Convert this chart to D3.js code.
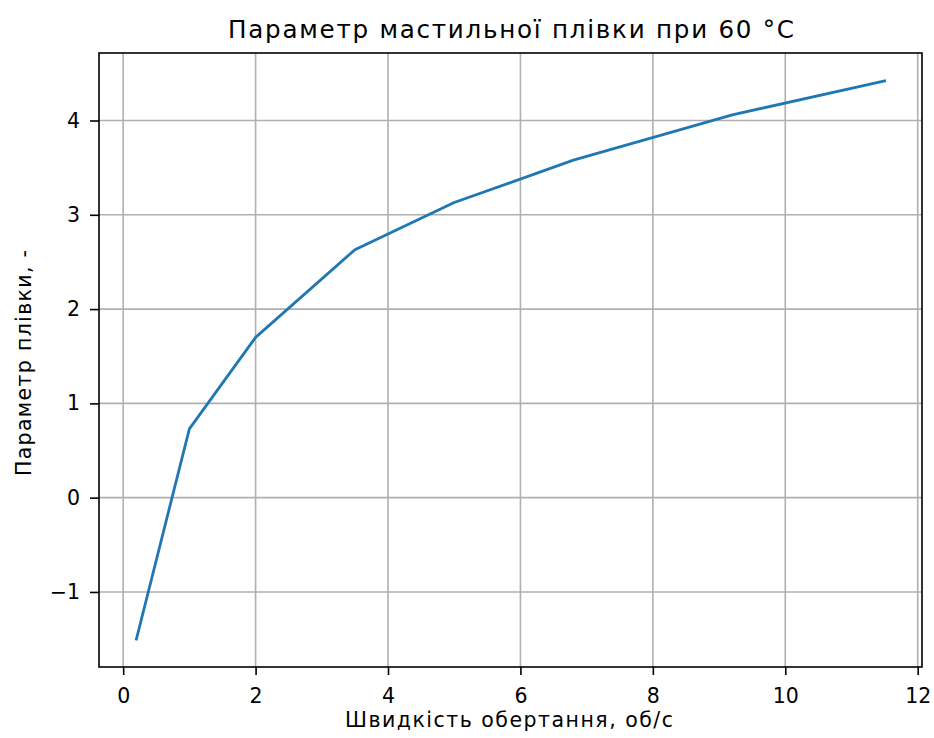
<!DOCTYPE html>
<html>
<head>
<meta charset="utf-8">
<script src="https://cdn.jsdelivr.net/npm/d3@7"></script>
<style>
  html, body { margin: 0; padding: 0; background: #fff; }
  svg { display: block; font-family: "DejaVu Sans", sans-serif; }
</style>
</head>
<body>
<svg id="chart" width="934" height="738"></svg>
<script>
// Data
const speeds = [0.2, 1.0, 2.0, 3.5, 5.0, 6.8, 9.2, 11.5];          // об/с
const filmParam = [-1.5, 0.73, 1.70, 2.63, 3.13, 3.58, 4.06, 4.42];
const xTicks = [0, 2, 4, 6, 8, 10, 12];
const yTicks = [-1, 0, 1, 2, 3, 4];
const titleText = "Параметр мастильної плівки при 60 °C";
const xLabelText = "Швидкість обертання, об/с";
const yLabelText = "Параметр плівки, -";

(function () {
const svg = d3.select("#chart");
const mLeft = 99, mRight = 922, mTop = 53, mBottom = 667;

const xMin = d3.min(speeds), xMax = d3.max(speeds);
const yMin = d3.min(filmParam), yMax = d3.max(filmParam);
const xPad = (xMax - xMin) * 0.05, yPad = (yMax - yMin) * 0.05;

const x = d3.scaleLinear().domain([xMin - xPad, xMax + xPad]).range([mLeft, mRight]);
const y = d3.scaleLinear().domain([yMin - yPad, yMax + yPad]).range([mBottom, mTop]);

const tickFont = 20.5;

// grid
const grid = svg.append("g").attr("stroke", "#b0b0b0").attr("stroke-width", 1.6);
grid.selectAll("line.vx").data(xTicks).join("line")
  .attr("x1", d => x(d)).attr("x2", d => x(d)).attr("y1", mTop).attr("y2", mBottom);
grid.selectAll("line.hy").data(yTicks).join("line")
  .attr("y1", d => y(d)).attr("y2", d => y(d)).attr("x1", mLeft).attr("x2", mRight);

// line
const lineGen = d3.line().x((d, i) => x(speeds[i])).y(d => y(d));
svg.append("path").datum(filmParam)
  .attr("d", lineGen)
  .attr("fill", "none")
  .attr("stroke", "#1f77b4")
  .attr("stroke-width", 2.8)
  .attr("stroke-linejoin", "round")
  .attr("stroke-linecap", "square");

// axes
const fmt = d => d < 0 ? "\u2212" + Math.abs(d) : String(d);
const xAxis = svg.append("g").attr("transform", `translate(0,${mBottom})`)
  .call(d3.axisBottom(x).tickValues(xTicks).tickFormat(fmt).tickSize(8).tickPadding(13));
const yAxis = svg.append("g").attr("transform", `translate(${mLeft},0)`)
  .call(d3.axisLeft(y).tickValues(yTicks).tickFormat(fmt).tickSize(9).tickPadding(10));
[xAxis, yAxis].forEach(a => {
  a.select(".domain").remove();
  a.selectAll(".tick line").attr("stroke", "#000").attr("stroke-width", 1.6);
  a.selectAll(".tick text").attr("fill", "#000")
    .style("font-family", "DejaVu Sans").style("font-size", tickFont + "px");
});

// spines
svg.append("rect")
  .attr("x", mLeft).attr("y", mTop)
  .attr("width", mRight - mLeft).attr("height", mBottom - mTop)
  .attr("fill", "none").attr("stroke", "#000").attr("stroke-width", 1.6);

// title
svg.append("text")
  .attr("x", 511).attr("y", 38)
  .attr("text-anchor", "middle")
  .attr("textLength", 566).attr("lengthAdjust", "spacing")
  .style("font-size", "24.6px").attr("fill", "#000")
  .text(titleText);

// x label
svg.append("text")
  .attr("x", 509).attr("y", 727)
  .attr("text-anchor", "middle")
  .attr("textLength", 328).attr("lengthAdjust", "spacing")
  .style("font-size", tickFont + "px").attr("fill", "#000")
  .text(xLabelText);

// y label
svg.append("text")
  .attr("transform", `translate(31,363) rotate(-90)`)
  .attr("text-anchor", "middle")
  .attr("textLength", 226).attr("lengthAdjust", "spacing")
  .style("font-size", tickFont + "px").attr("fill", "#000")
  .text(yLabelText);
})();
</script>
</body>
</html>
